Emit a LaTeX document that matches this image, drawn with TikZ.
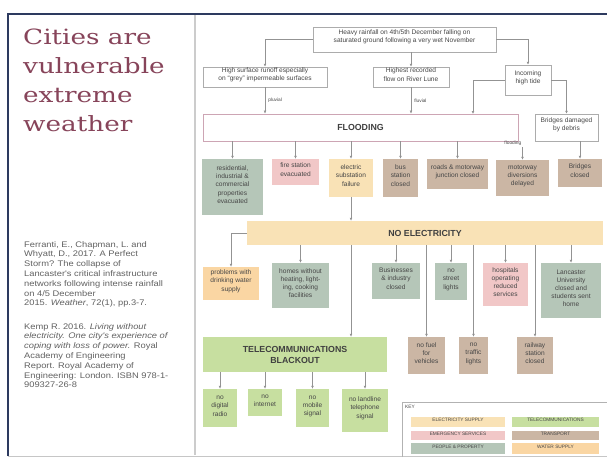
\documentclass[tikz,border=0pt]{standalone}
\usepackage{fontspec}
\setmainfont{Liberation Sans}
\newfontfamily\titlefont[FakeStretch=1.25]{DejaVu Serif}
\newfontfamily\reffont[FakeStretch=1.15]{Liberation Sans}
\usetikzlibrary{arrows.meta,fit}
\definecolor{ppcol}{RGB}{181,198,184}
\definecolor{emcol}{RGB}{241,199,199}
\definecolor{elcol}{RGB}{249,226,182}
\definecolor{trcol}{RGB}{203,182,164}
\definecolor{tecol}{RGB}{199,223,160}
\definecolor{wacol}{RGB}{250,214,163}
\definecolor{navy}{RGB}{45,58,95}
\definecolor{titlered}{RGB}{135,68,90}
\definecolor{txt}{RGB}{70,70,70}
\definecolor{flborder}{RGB}{205,165,180}
\tikzset{
  box/.style={inner sep=0pt, align=center, font=\fontsize{6.6}{8.2}\selectfont, text=txt},
  wbox/.style={box, draw=gray!65, line width=0.5pt, fill=white},
  pp/.style={box, fill=ppcol},
  em/.style={box, fill=emcol},
  el/.style={box, fill=elcol},
  tr/.style={box, fill=trcol},
  te/.style={box, fill=tecol},
  wa/.style={box, fill=wacol},
  big/.style={font=\bfseries\fontsize{8.8}{11}\selectfont, text=black!75},
  keyent/.style={inner sep=0pt, font=\fontsize{4.8}{5}\selectfont, text=txt},
  arr/.style={draw=gray!85, line width=0.55pt, -{Latex[length=3pt,width=2.8pt]}},
  lbl/.style={inner sep=1pt, font=\fontsize{4.8}{5}\selectfont, text=txt},
  reftext/.style={anchor=north west, inner sep=0pt, align=left, text=black!62,
      font=\reffont\fontsize{8.1}{9.8}\selectfont},
}
\begin{document}
\begin{tikzpicture}[x=1pt,y=-1pt]
\useasboundingbox (0,0) rectangle (607,460);
\fill[white] (0,0) rectangle (607,460);
% slide frame
\draw[gray!45, line width=0.8pt] (8,456) -- (607,456);
\draw[gray!40, line width=1.6pt] (195,15) -- (195,455);
\draw[navy, line width=1.4pt] (8,456) -- (8,14) -- (607,14);
% left text
\node[anchor=north west, inner sep=0pt, align=left, text=titlered,
      font=\titlefont\fontsize{21}{29}\selectfont] (title) at (23,29)
      {Cities are\\vulnerable\\extreme\\weather};
\node[reftext] (ref1) at (24,241)
      {Ferranti, E., Chapman, L. and\\Whyatt, D., 2017. A Perfect\\Storm? The collapse of\\Lancaster's critical infrastructure\\networks following intense rainfall\\on 4/5 December\\2015. \textit{Weather}, 72(1), pp.3-7.};
\node[reftext] (ref2) at (24,323)
      {Kemp R. 2016. \textit{Living without}\\\textit{electricity. One city's experience of}\\\textit{coping with loss of power.} Royal\\Academy of Engineering\\Report. Royal Academy of\\Engineering: London. ISBN 978-1-\\909327-26-8};
% top level
\node[wbox, fit={(313,27) (496,52)}] (top) {Heavy rainfall on 4th/5th December falling on\\saturated ground following a very wet November};
\node[wbox, fit={(203,67) (327,87)}] (b1) {High surface runoff especially\\on ``grey'' impermeable surfaces};
\node[wbox, fit={(373,67) (449,87)}] (b2) {Highest recorded\\flow on River Lune};
\node[wbox, fit={(505,65) (551,95)}] (tide) {Incoming\\high tide};
\node[box, draw=flborder, line width=0.8pt, fit={(203,114) (518,141)}] (fl) {};
\node[big] at (fl.center) {FLOODING};
\node[wbox, fit={(535,114) (598,141)}] (bd) {Bridges damaged\\by debris};
% row 2
\node[pp, fit={(202,159) (263,215)}] (r1) {residential,\\industrial \&\\commercial\\properties\\evacuated};
\node[em, fit={(272,159) (319,185)}] (fire) {fire station\\evacuated};
\node[el, fit={(329,159) (373,197)}] (sub) {electric\\substation\\failure};
\node[tr, fit={(383,159) (418,197)}] (bus) {bus\\station\\closed};
\node[tr, fit={(427,159) (488,189)}] (roads) {roads \& motorway\\junction closed};
\node[tr, fit={(496,160) (549,196)}] (mw) {motorway\\diversions\\delayed};
\node[tr, fit={(558,159) (602,187)}] (bc) {Bridges\\closed};
% no electricity
\node[el, fit={(247,221) (603,245)}] (ne) {};
\node[big] at (ne.center) {NO ELECTRICITY};
% row 3
\node[wa, fit={(203,267) (259,300)}] (water) {problems with\\drinking water\\supply};
\node[pp, fit={(272,263) (329,308)}] (homes) {homes without\\heating, light-\\ing, cooking\\facilities};
\node[pp, fit={(372,263) (420,299)}] (biz) {Businesses\\\& industry\\closed};
\node[pp, fit={(435,263) (467,300)}] (street) {no\\street\\lights};
\node[em, fit={(483,263) (528,306)}] (hosp) {hospitals\\operating\\reduced\\services};
\node[pp, fit={(541,263) (601,318)}] (uni) {Lancaster\\University\\closed and\\students sent\\home};
% row 4
\node[te, fit={(203,337) (387,372)}] (tel) {};
\node[big, align=center] at (tel.center) {TELECOMMUNICATIONS\\BLACKOUT};
\node[tr, fit={(408,337) (445,374)}] (fuel) {no fuel\\for\\vehicles};
\node[tr, fit={(459,337) (488,374)}] (traffic) {no\\traffic\\lights};
\node[tr, fit={(517,337) (553,374)}] (rail) {railway\\station\\closed};
% row 5
\node[te, fit={(203,389) (237,427)}] (radio) {no\\digital\\radio};
\node[te, fit={(248,389) (282,416)}] (internet) {no\\internet};
\node[te, fit={(296,389) (329,427)}] (mobile) {no\\mobile\\signal};
\node[te, fit={(342,389) (388,432)}] (landline) {no landline\\telephone\\signal};
% key
\draw[gray!60, line width=0.6pt] (402,457) -- (402,402) -- (609,402);
\node[keyent, anchor=north west] (keylbl) at (405,405) {KEY};
\node[keyent, fill=elcol, fit={(411,417) (505,427)}] (k1) {ELECTRICITY SUPPLY};
\node[keyent, fill=tecol, fit={(512,417) (599,427)}] (k2) {TELECOMMUNICATIONS};
\node[keyent, fill=emcol, fit={(411,431) (505,440)}] (k3) {EMERGENCY SERVICES};
\node[keyent, fill=trcol, fit={(512,431) (599,440)}] (k4) {TRANSPORT};
\node[keyent, fill=ppcol, fit={(411,443) (505,454)}] (k5) {PEOPLE \& PROPERTY};
\node[keyent, fill=wacol, fit={(512,443) (599,454)}] (k6) {WATER SUPPLY};
% connectors
\draw[arr] (top.west) -| (b1.north);
\draw[arr] (top.south -| b2.north) -- (b2.north);
\draw[arr] (top.east) -| (tide.north);
\draw[arr] (b1.south) -- (b1.south |- fl.north) node[lbl, midway, right, xshift=2pt] {pluvial};
\draw[arr] (b2.south) -- (b2.south |- fl.north) node[lbl, midway, right, xshift=2pt] {fluvial};
\coordinate (tdrop) at (473,114);
\draw[arr] (tide.west) -| (tdrop);
\draw[arr] (tide.east) -| (bd.north);
\foreach \n in {r1,fire,sub,bus,roads} \draw[arr] (fl.south -| \n.north) -- (\n.north);
\coordinate (mwtop) at (522.5,147);
\node[lbl, anchor=south east] (mwlbl) at (mwtop) {flooding};
\draw[arr] (mwtop) -- (mw.north);
\draw[arr] (bd.south -| bc.north) -- (bc.north);
\draw[arr] (sub.south) -- (sub.south |- ne.north);
\draw[arr] (ne.west) -| (water.north);
\foreach \n in {homes,biz,street,hosp,uni,fuel,traffic,rail} \draw[arr] (ne.south -| \n.north) -- (\n.north);
\draw[arr] (ne.south -| sub.south) -- (tel.north -| sub.south);
\foreach \n in {radio,internet,mobile,landline} \draw[arr] (tel.south -| \n.north) -- (\n.north);
\end{tikzpicture}
\end{document}
